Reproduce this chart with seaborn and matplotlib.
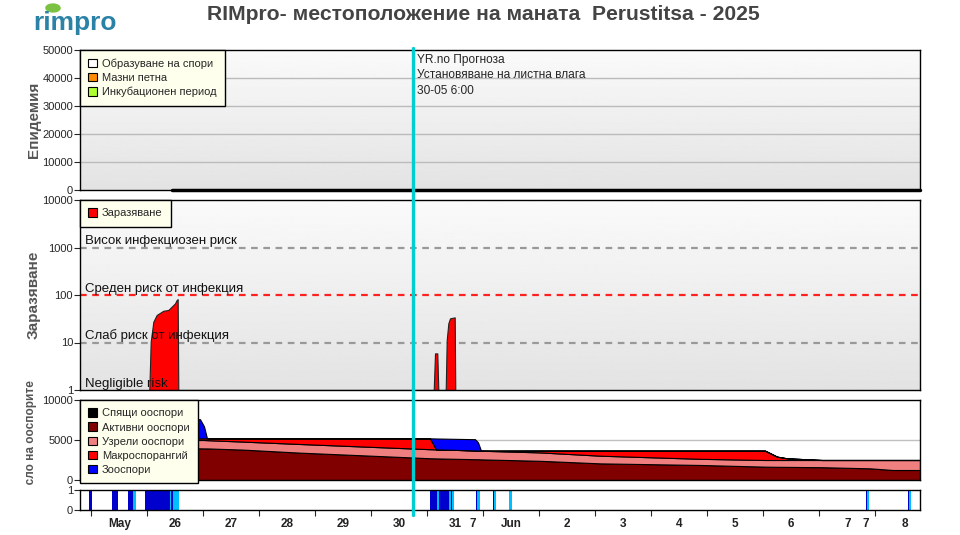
import numpy as np
import matplotlib
matplotlib.use("Agg")
import matplotlib.pyplot as plt
import seaborn as sns
from matplotlib.lines import Line2D
from matplotlib.patches import Patch, Ellipse
from matplotlib.transforms import Bbox, TransformedBbox

# ---- data (x in days since 25 May 00:00) ----
now_day = 5.75

epi_days = [1.45, 14.8]
epi_vals = [0, 0]

inf_days = [1.041, 1.066, 1.113, 1.173, 1.291, 1.380, 1.441, 1.500, 1.530, 1.548, 1.559,
            6.120, 6.143, 6.184, 6.202,
            6.334, 6.352, 6.381, 6.411, 6.495, 6.505]
inf_vals = [1, 10.4, 27.4, 38, 46.6, 48.3, 56.9, 66.6, 78.5, 82, 1,
            1, 5.9, 5.9, 1,
            1, 11.3, 25.4, 32.3, 33.8, 1]

oo_px = [80, 150, 196, 200, 204, 207, 243, 300, 360, 430, 433, 436, 475, 478, 481,
         540, 600, 700, 765, 777, 787, 822, 870, 893, 920]
oo_days = [(p - 91) / 56 for p in oo_px]
sleeping = [0] * len(oo_px)
active = [4000, 4000, 3960, 3960, 3950, 3950, 3800, 3420, 3100, 2720, 2710, 2700, 2600, 2600, 2580,
          2400, 2080, 1880, 1670, 1650, 1640, 1600, 1460, 1250, 1250]
mature = [1000, 1000, 1040, 1040, 1050, 1030, 1000, 1080, 1100, 1130, 1130, 1130, 1100, 1080, 1080,
          1050, 960, 770, 830, 850, 860, 900, 1040, 1250, 1250]
macro = [200, 200, 200, 200, 200, 220, 400, 700, 1000, 1350, 680, 0, 0, 0, 0,
         220, 630, 1020, 1170, 420, 210, 0, 0, 0, 0]
zoo = [0, 2400, 2400, 2400, 1500, 0, 0, 0, 0, 0, 680, 1360, 1400, 1020, 0,
       0, 0, 0, 0, 0, 0, 0, 0, 0, 0]

wet_start = [-0.036, 0.375, 0.661, 0.750, 0.964, 1.411, 1.429, 1.464,
             6.054, 6.179, 6.214, 6.393, 6.429, 6.446, 6.875, 6.893,
             7.179, 7.196, 7.464, 13.834, 13.852, 14.584, 14.602]
wet_end = [0.018, 0.482, 0.750, 0.804, 1.411, 1.429, 1.464, 1.571,
           6.179, 6.214, 6.393, 6.429, 6.446, 6.482, 6.893, 6.946,
           7.196, 7.232, 7.518, 13.852, 13.888, 14.602, 14.643]
wet_kind = ["d", "d", "d", "l", "d", "l", "d", "l",
            "d", "l", "d", "l", "d", "l", "d", "l",
            "d", "l", "l", "d", "l", "d", "l"]

day_ticks = list(range(0, 15))
label_pos = [0.52, 1.5, 2.5, 3.5, 4.5, 5.5, 6.51, 6.82, 7.51, 8.5, 9.5, 10.5, 11.5, 12.5, 13.52, 13.83, 14.53]
label_txt = ["May", "26", "27", "28", "29", "30", "31", "7", "Jun", "2", "3", "4", "5", "6", "7", "7", "8"]

# ---- style ----
sns.set_style("white")
plt.rcParams["font.family"] = ["Liberation Sans", "DejaVu Sans"]
plt.rcParams["font.size"] = 8

fig = plt.figure(figsize=(9.6, 5.35), dpi=100)
W, H = 960, 535


def axes_px(x0, y0, x1, y1):
    return fig.add_axes([x0 / W, 1 - y1 / H, (x1 - x0) / W, (y1 - y0) / H])


ax1 = axes_px(80, 50, 920, 190)
ax2 = axes_px(80, 200, 920, 390)
ax3 = axes_px(80, 400, 920, 480)
ax4 = axes_px(80, 490, 920, 510)
xlim = ((80 - 91) / 56, (920 - 91) / 56)

grad = np.linspace(0.98, 0.89, 100).reshape(-1, 1)
for ax in (ax1, ax2):
    ax.imshow(grad, extent=[0, 1, 0, 1], transform=ax.transAxes, cmap="gray",
              vmin=0, vmax=1, aspect="auto", zorder=0)

for ax in (ax1, ax2, ax3, ax4):
    ax.set_xlim(*xlim)
    for s in ax.spines.values():
        s.set_color("black")
        s.set_linewidth(1)
    ax.tick_params(axis="y", direction="out", length=4, width=0.8, labelsize=8, pad=1, left=True)
    ax.set_xlabel("")

leg_kw = dict(loc="upper left", bbox_to_anchor=(0, 1), borderaxespad=0, fontsize=8,
              handlelength=0.8, handleheight=0.8, handletextpad=0.4, labelspacing=0.36,
              borderpad=0.75, fancybox=False, framealpha=1, facecolor="#ffffee", edgecolor="black")

# panel 1: epidemic
ax1.set_ylim(0, 50000)
ax1.set_yticks(range(0, 50001, 10000))
for v in range(10000, 50000, 10000):
    ax1.axhline(v, color="#bbbbbb", lw=1, zorder=1)
sns.lineplot(x=epi_days, y=epi_vals, ax=ax1, color="black", lw=2.5, zorder=3, clip_on=False)
ax1.set_xticks([])
ax1.set_ylabel("Епидемия", fontsize=11, fontweight="bold", color="#555555")
ax1.yaxis.set_label_coords(-0.047, 0.5)
leg1 = ax1.legend(handles=[Patch(fc="white", ec="black", lw=0.8, label="Образуване на спори"),
                           Patch(fc="#ff8c00", ec="black", lw=0.8, label="Мазни петна"),
                           Patch(fc="#adff2f", ec="black", lw=0.8, label="Инкубационен период")],
                  **leg_kw)
leg1.get_frame().set_linewidth(1)
ax1.text(now_day + 0.07, 0.975, "YR.no Прогноза\nУстановяване на листна влага\n30-05 6:00",
         transform=ax1.get_xaxis_transform(), va="top", ha="left", fontsize=8.6, linespacing=1.4)

# panel 2: infection
ax2.set_yscale("log")
ax2.set_ylim(1, 10000)
ax2.set_yticks([1, 10, 100, 1000, 10000])
ax2.set_yticklabels(["1", "10", "100", "1000", "10000"])
ax2.minorticks_off()
ax2.set_xticks([])
ax2.fill_between(inf_days, 1, inf_vals, color="red", ec="#222222", lw=0.8, zorder=2)
ax2.axhline(1000, color="#999999", ls=(0, (3, 2.5)), lw=1.6, zorder=1)
ax2.axhline(100, color="#ff2020", ls=(0, (3, 2.5)), lw=1.6, zorder=1)
ax2.axhline(10, color="#999999", ls=(0, (3, 2.5)), lw=1.6, zorder=1)
risk = [(1000, "Висок инфекциозен риск"), (100, "Среден риск от инфекция"),
        (10, "Слаб риск от инфекция"), (1, "Negligible risk")]
for yv, t in risk:
    ax2.text(0.006, yv * 1.02, t, transform=ax2.get_yaxis_transform(), va="bottom", ha="left",
             fontsize=9.5, color="#111111", zorder=4)
ax2.set_ylabel("Заразяване", fontsize=11, fontweight="bold", color="#555555")
ax2.yaxis.set_label_coords(-0.047, 0.5)
leg2 = ax2.legend(handles=[Patch(fc="red", ec="black", lw=0.8, label="Заразяване")], **leg_kw)
leg2.get_frame().set_linewidth(1)

# panel 3: oospores
ax3.set_ylim(0, 10000)
ax3.set_yticks([0, 5000, 10000])
ax3.set_xticks([])
ax3.axhline(5000, color="#c0c0c0", lw=1, zorder=0)
colors3 = ["black", "#800000", "#f08080", "#ff0000", "#0000ff"]
ax3.stackplot(oo_days, sleeping, active, mature, macro, zoo, colors=colors3,
              edgecolor="black", linewidth=0.8, zorder=2)
names3 = ["Спящи ооспори", "Активни ооспори", "Узрели ооспори", "Макроспорангий", "Зооспори"]
leg3 = ax3.legend(handles=[Patch(fc=c, ec="black", lw=0.8, label=n) for c, n in zip(colors3, names3)],
                  **leg_kw)
leg3.get_frame().set_linewidth(1)
leg3.set_zorder(5)
yl3 = ax3.set_ylabel("Число на ооспорите", fontsize=8.5, fontweight="bold", color="#555555")
ax3.yaxis.set_label_coords(-0.051, 0.5)
yl3.set_clip_box(TransformedBbox(Bbox([[0, 1 - 485 / H], [0.1, 1]]), fig.transFigure))
yl3.set_clip_on(True)

# panel 4: leaf wetness
ax4.set_ylim(0, 1)
ax4.set_yticks([0, 1])
wet_w = [e - s for s, e in zip(wet_start, wet_end)]
wet_c = ["#0000cd" if k == "d" else "#00bfff" for k in wet_kind]
ax4.bar(wet_start, [1] * len(wet_start), width=wet_w, align="edge", color=wet_c, lw=0, zorder=2)
ax4.set_xticks(day_ticks, minor=True)
ax4.set_xticks(label_pos)
ax4.set_xticklabels(label_txt, fontweight="bold", fontsize=8.5, color="#222222")
ax4.tick_params(axis="x", which="major", length=0, pad=6)
ax4.tick_params(axis="x", which="minor", length=4, width=0.8, direction="out", bottom=True)

# "now" line across all panels
xf = fig.transFigure.inverted().transform(ax4.transData.transform((now_day, 0)))[0]
fig.add_artist(Line2D([xf, xf], [1 - 515 / H, 1 - 48 / H], transform=fig.transFigure,
                      color="#00ced1", lw=2.4, zorder=10))

# title and logo
fig.text(483 / W, 1 - 14 / H, "RIMpro- местоположение на маната  Perustitsa - 2025",
         ha="center", va="center", fontsize=15.2, fontweight="bold", color="#444444")
fig.text(33 / W, 1 - 23 / H, "rimpro", ha="left", va="center", fontsize=19,
         fontweight="bold", color="#2a82a6")
fig.add_artist(Ellipse((53 / W, 1 - 8 / H), 14 / W, 8 / H, angle=40,
                       transform=fig.transFigure, color="#7cc242"))

fig.savefig("out.png", dpi=100)
